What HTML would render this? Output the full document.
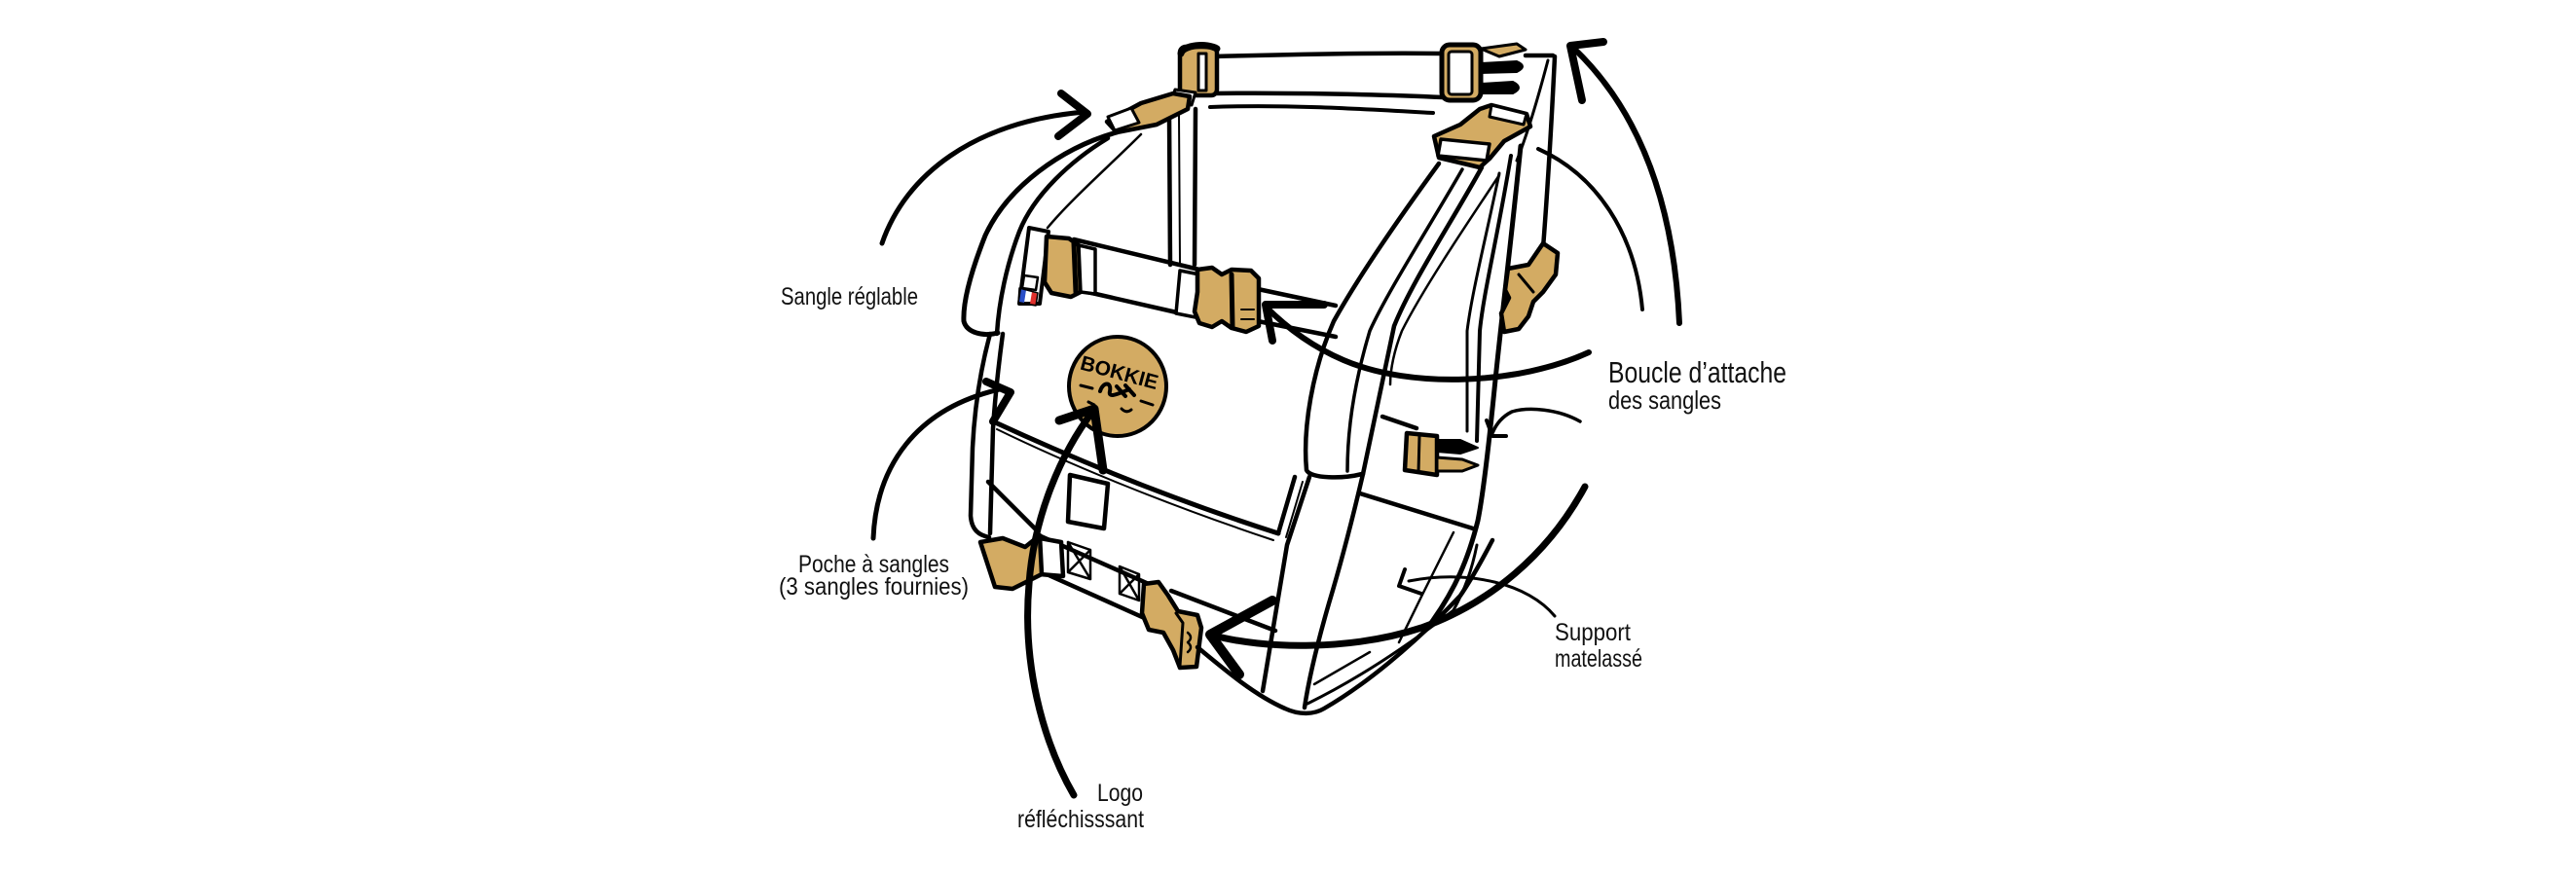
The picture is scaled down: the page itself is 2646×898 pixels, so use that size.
<!DOCTYPE html>
<html><head><meta charset="utf-8"><style>
html,body{margin:0;padding:0;background:#fff;width:2646px;height:898px;overflow:hidden}
svg{display:block}
text{font-family:"Liberation Sans",sans-serif;fill:#111}
</style></head><body>
<svg width="2646" height="898" viewBox="0 0 2646 898" xmlns="http://www.w3.org/2000/svg">
<rect x="0" y="0" width="2646" height="898" fill="#fff"/>
<g fill="none" stroke="#000" stroke-linecap="round" stroke-linejoin="round" stroke-width="4.5">

<!-- top strap -->
<path d="M1247 58 C1320 56 1420 54 1482 55"/>
<path d="M1245 96 C1320 95 1420 97 1482 100"/>
<path d="M1243 110 C1320 107 1400 112 1472 116" stroke-width="4"/>

<!-- top-left buckle -->
<rect x="1212" y="48" width="38" height="50" rx="6" fill="#D3AB63"/>
<rect x="1231" y="55" width="8" height="38" fill="#fff" stroke-width="3"/>
<path d="M1213 55 C1215 46 1240 44 1250 50" stroke-width="7"/>
<path d="M1207 92 L1228 95 L1224 108 L1203 104 Z" fill="#fff" stroke-width="3"/>

<!-- top-right buckle -->
<rect x="1481" y="46" width="40" height="57" rx="8" fill="#D3AB63" stroke-width="5"/>
<rect x="1488" y="53" width="24" height="44" rx="3" fill="#fff" stroke-width="3"/>
<path d="M1521 50 L1558 45 L1567 51 L1540 58 Z" fill="#D3AB63" stroke-width="3"/>
<path d="M1521 65 L1558 63 Q1570 68 1558 74 L1521 75 Z" fill="#000" stroke-width="2"/>
<path d="M1521 86 L1554 84 Q1566 90 1554 96 L1521 96 Z" fill="#000" stroke-width="2"/>
<path d="M1567 57 L1595 57"/>

<!-- left back vertical lines -->
<path d="M1201 118 L1202 272"/>
<path d="M1211 118 L1212 270" stroke-width="2"/>
<path d="M1228 112 L1227 272"/>

<!-- right side panel lines -->
<path d="M1597 58 C1594 120 1590 190 1585 255"/>
<path d="M1590 62 C1580 100 1570 135 1558 165" stroke-width="3"/>
<path d="M1540 178 C1525 250 1512 300 1507 340 L1507 443" stroke-width="3"/>
<path d="M1552 160 C1537 250 1524 300 1520 340 L1517 453" stroke-width="4"/>
<path d="M1562 150 C1552 250 1542 330 1535 400 C1529 460 1523 510 1518 535 C1508 575 1495 605 1470 640" stroke-width="5"/>
<path d="M1493 547 L1460 613 L1437 660" stroke-width="2.5"/>

<!-- right shoulder strap -->
<path d="M1478 168 C1440 220 1395 285 1370 330 C1348 380 1338 440 1342 483 C1346 492 1380 492 1399 487" fill="#fff"/>
<path d="M1502 174 C1470 230 1425 300 1407 340 C1392 390 1384 440 1384 484" stroke-width="3.5"/>
<path d="M1522 172 C1490 230 1450 290 1432 335 C1420 390 1410 440 1400 487"/>
<path d="M1540 180 C1500 240 1460 300 1440 340 C1432 360 1428 380 1428 395" stroke-width="2.5"/>
<path d="M1400 487 C1390 530 1380 570 1365 620 C1352 665 1344 700 1340 727"/>
<path d="M1345 490 L1322 560 L1297 710"/>
<path d="M1397 507 L1513 543"/>
<path d="M1420 428 L1455 440"/>

<!-- buckle below top-right -->
<path d="M1473 140 L1500 128 L1520 112 L1532 108 L1568 117 L1572 130 L1545 145 L1530 163 L1520 172 L1478 162 Z" fill="#D3AB63"/>
<path d="M1480 143 L1530 148 L1527 165 L1477 160 Z" fill="#fff" stroke-width="3.5"/>
<path d="M1532 108 L1568 117 L1565 128 L1530 120 Z" fill="#fff" stroke-width="3"/>

<!-- right side buckle (upper) -->
<path d="M1585 250 L1600 260 L1598 282 L1585 300 L1575 310 L1570 325 L1560 338 L1545 341 L1542 322 L1550 306 L1546 298 L1549 276 L1570 272 Z" fill="#D3AB63"/>
<path d="M1560 282 L1575 300" stroke-width="3"/>

<!-- side buckle (lower) -->
<path d="M1445 445 L1476 448 L1476 488 L1443 483 Z" fill="#D3AB63"/>
<path d="M1458 448 L1457 485" stroke-width="3"/>
<path d="M1476 452 L1500 452 L1518 460 L1500 466 L1476 464 Z" fill="#000" stroke-width="2"/>
<path d="M1476 470 L1502 472 L1518 478 L1502 484 L1476 484 Z" fill="#D3AB63" stroke-width="3"/>

<!-- left shoulder strap -->
<path d="M1147 136 C1090 152 1035 192 1012 242 C997 280 989 310 990 330 C993 342 1010 346 1025 342" fill="#fff" stroke-width="5"/>
<path d="M1138 142 C1100 165 1062 200 1047 238 C1034 272 1026 310 1024 343"/>
<path d="M1172 138 C1140 170 1100 205 1076 234" stroke-width="2.5"/>

<!-- left mid buckle -->
<path d="M1137 125 L1172 106 L1205 96 L1222 99 L1220 112 L1188 128 L1147 136 Z" fill="#D3AB63"/>
<path d="M1138 120 L1162 111 L1170 126 L1145 134 Z" fill="#fff" stroke-width="3"/>

<!-- middle strap -->
<path d="M1057 234 L1077 238 L1068 312 L1047 312 Z" fill="#fff" stroke-width="4"/>
<path d="M1103 246 L1232 277"/>
<path d="M1292 297 L1372 314"/>
<path d="M1108 298 L1213 322"/>
<path d="M1292 330 L1372 346"/>
<path d="M1075 243 L1098 245 L1108 252 L1110 300 L1100 305 L1080 301 L1073 290 Z" fill="#D3AB63"/>
<path d="M1103 250 L1105 300" stroke-width="5"/>
<path d="M1108 252 L1125 256 L1125 302 L1110 300 Z" fill="#fff" stroke-width="3.5"/>
<path d="M1212 278 L1232 282 L1228 326 L1208 322 Z" fill="#fff" stroke-width="3.5"/>
<path d="M1230 277 L1245 275 L1255 282 L1265 277 L1285 278 L1293 286 L1293 335 L1280 341 L1265 337 L1255 330 L1245 336 L1232 332 L1227 320 L1230 300 Z" fill="#D3AB63"/>
<path d="M1265 282 L1266 336" stroke-width="5"/>
<path d="M1275 318 L1288 318 M1275 328 L1288 328" stroke-width="2"/>

<!-- flag -->
<path d="M1052 283 L1066 285 L1064 298 L1050 296 Z" fill="#fff" stroke-width="2.5"/>
<path d="M1049 297 L1054 298 L1052 311 L1047 310 Z" fill="#2a4fc8" stroke="none"/>
<path d="M1060 300 L1066 302 L1064 313 L1058 312 Z" fill="#e0302c" stroke="none"/>
<path d="M1047 296 L1066 301 L1064 314 L1046 311 Z" stroke-width="1.5"/>

<!-- left body -->
<path d="M1017 343 C1007 380 1001 420 999 460 L997 530 C998 545 1006 550 1016 552"/>
<path d="M1030 343 C1025 380 1022 410 1020 440 L1017 548"/>
<path d="M1015 495 L1065 545"/>

<!-- flap -->
<path d="M1020 433 C1100 470 1200 512 1313 548" stroke-width="5"/>
<path d="M1024 441 C1100 478 1200 519 1308 555" stroke-width="2"/>
<path d="M1313 548 L1330 490"/>
<path d="M1321 552 L1338 495" stroke-width="2"/>
<path d="M1099 488 L1138 497 L1134 543 L1097 536 Z" fill="#fff"/>

<!-- logo -->
<ellipse cx="1148" cy="397" rx="50" ry="51" fill="#D3AB63" stroke-width="4"/>
<path d="M1130 402 C1133 392 1142 392 1140 402 C1138 410 1150 404 1160 400 M1147 397 L1156 407 M1156 396 L1165 406" stroke-width="4"/>
<path d="M1110 396 L1122 399 M1172 412 L1184 416 M1152 420 Q1157 425 1162 421 M1118 413 L1124 416" stroke-width="3"/>

<!-- pocket strap -->
<path d="M1067 550 L1180 600"/>
<path d="M1075 590 L1180 637"/>
<path d="M1063 552 L1090 557 L1092 592 L1068 590 Z" fill="#fff"/>
<path d="M1097 557 L1120 565 L1120 595 L1097 588 Z M1097 557 L1120 595 M1120 565 L1097 588" stroke-width="2.5"/>
<path d="M1150 582 L1170 590 L1170 617 L1150 610 Z M1150 582 L1170 617 M1170 590 L1150 610" stroke-width="2.5"/>
<path d="M1007 557 L1030 553 L1053 562 L1068 550 L1070 590 L1050 600 L1040 605 L1022 603 Z" fill="#D3AB63"/>
<path d="M1175 600 L1190 598 L1200 612 L1210 628 L1230 632 L1234 645 L1229 685 L1212 686 L1205 668 L1195 650 L1180 647 L1173 630 Z" fill="#D3AB63"/>
<path d="M1208 630 L1215 640 L1212 684" stroke-width="3"/>
<path d="M1220 650 Q1226 655 1220 660 Q1226 665 1220 670" stroke-width="2.5"/>

<!-- bottom -->
<path d="M1203 607 L1310 648"/>
<path d="M1230 665 C1260 690 1290 715 1320 728 C1335 735 1350 734 1360 728 C1400 705 1450 665 1500 612 C1515 590 1525 570 1533 555"/>
<path d="M1343 723 C1390 700 1440 668 1493 627 C1505 605 1512 585 1517 560" stroke-width="3"/>
<path d="M1350 703 L1407 670" stroke-width="2.5"/>
</g>

<!-- logo text -->
<text x="1150" y="390" font-size="21" font-weight="bold" text-anchor="middle" transform="rotate(15 1150 382)" style="fill:#000">BOKKIE</text>

<!-- arrows -->
<g fill="none" stroke="#000" stroke-linecap="round" stroke-linejoin="round">
<path d="M906 250 C930 180 1000 125 1114 115" stroke-width="5"/>
<path d="M1090 96 L1117 117 L1087 140" stroke-width="8"/>

<path d="M897 553 C900 480 940 420 1027 400" stroke-width="5"/>
<path d="M1013 392 L1038 403 L1020 433" stroke-width="8"/>

<path d="M1103 817 C1070 760 1050 680 1057 600 C1062 530 1090 465 1123 422" stroke-width="7"/>
<path d="M1088 432 L1124 420 L1133 483" stroke-width="9"/>

<path d="M1725 332 C1720 220 1690 120 1617 50" stroke-width="6"/>
<path d="M1647 43 L1613 47 L1625 103" stroke-width="8"/>

<path d="M1580 153 C1640 180 1680 240 1687 318" stroke-width="4"/>

<path d="M1632 362 C1560 395 1450 400 1380 370 C1345 355 1320 335 1300 315" stroke-width="6"/>
<path d="M1360 313 L1300 313 L1307 350" stroke-width="8"/>

<path d="M1623 433 C1600 420 1570 418 1553 423 C1543 428 1537 435 1533 445" stroke-width="3.5"/>
<path d="M1527 432 L1533 448 L1547 448" stroke-width="4"/>

<path d="M1628 500 C1590 570 1530 620 1460 645 C1390 668 1300 668 1243 652" stroke-width="7"/>
<path d="M1307 617 L1243 652 L1273 693" stroke-width="10"/>

<path d="M1597 633 C1570 600 1510 585 1447 597" stroke-width="3"/>
<path d="M1443 585 L1437 602 L1460 610" stroke-width="4"/>
</g>

<!-- labels -->
<text x="802" y="313" font-size="25" textLength="141" lengthAdjust="spacingAndGlyphs">Sangle réglable</text>
<text x="820" y="588" font-size="25" textLength="155" lengthAdjust="spacingAndGlyphs">Poche à sangles</text>
<text x="800" y="611" font-size="25" textLength="195" lengthAdjust="spacingAndGlyphs">(3 sangles fournies)</text>
<text x="1652" y="393" font-size="31" textLength="183" lengthAdjust="spacingAndGlyphs">Boucle d’attache</text>
<text x="1652" y="420" font-size="26" textLength="116" lengthAdjust="spacingAndGlyphs">des sangles</text>
<text x="1597" y="658" font-size="25" textLength="78" lengthAdjust="spacingAndGlyphs">Support</text>
<text x="1597" y="685" font-size="25" textLength="90" lengthAdjust="spacingAndGlyphs">matelassé</text>
<text x="1127" y="823" font-size="25" textLength="47" lengthAdjust="spacingAndGlyphs">Logo</text>
<text x="1045" y="850" font-size="25" textLength="130" lengthAdjust="spacingAndGlyphs">réfléchisssant</text>
</svg>
</body></html>
